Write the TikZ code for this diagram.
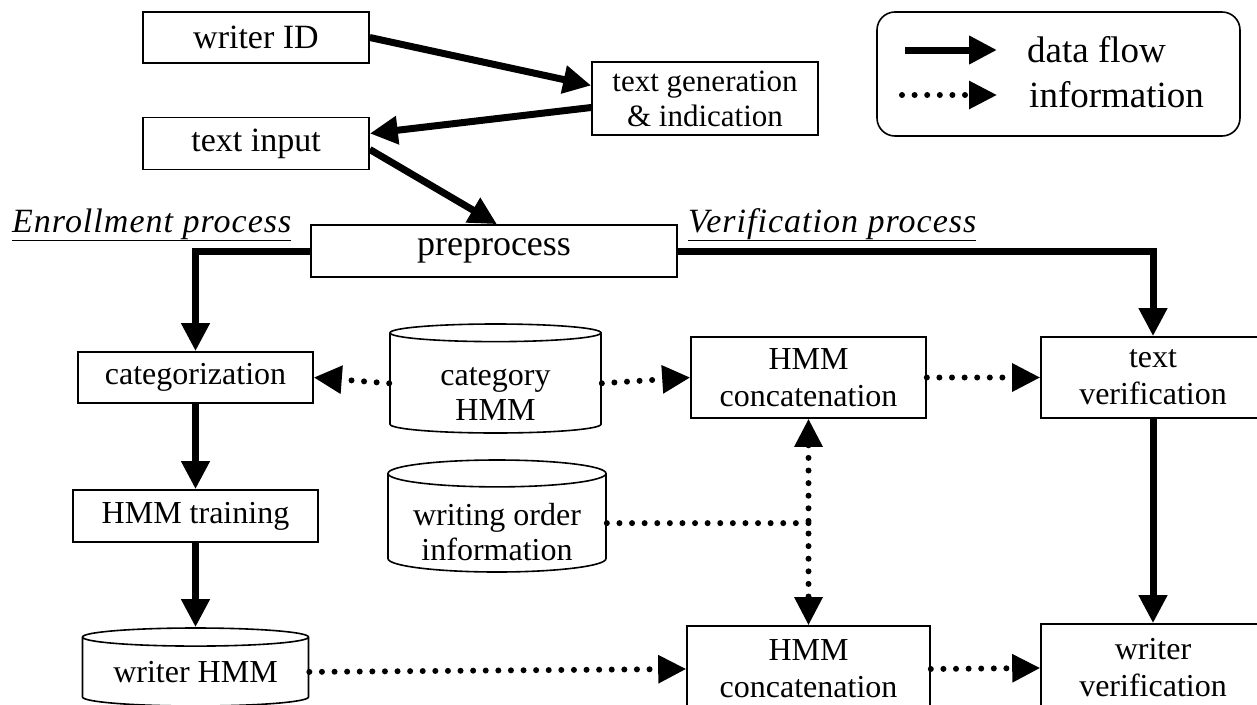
\documentclass[tikz,border=0pt]{standalone}
\usepackage{fontspec}
\setmainfont{Liberation Serif}
\usetikzlibrary{arrows.meta,shapes.geometric}

% text of a data base, set a little lower in the cylinder
\newcommand{\dbtext}[1]{\raisebox{-13pt}[\height][\depth]{\begin{tabular}{@{}c@{}}#1\end{tabular}}}

\begin{document}
\begin{tikzpicture}[x=1pt, y=-1pt, >={Triangle[length=28pt,width=27pt]},
    box/.style={rectangle, draw, line width=1.6pt, inner sep=0pt, align=center, font=\fontsize{32}{37}\selectfont},
    bigbox/.style={box, font=\fontsize{34}{39}\selectfont},
    dbase/.style={cylinder, shape border rotate=90, draw, line width=1.6pt, inner sep=0pt, anchor=shape center, font=\fontsize{32}{35}\selectfont},
    flow/.style={line width=7pt, ->},
    dots/.style={line width=6pt, line cap=round, dash pattern=on 0pt off 12.6pt},
    info/.style={dots, ->},
    proc/.style={anchor=base west, inner sep=0pt, font=\fontsize{34}{39}\selectfont\itshape\addfontfeature{LetterSpace=3}},
    legtext/.style={anchor=west, inner sep=0pt, font=\fontsize{37}{42}\selectfont}]

    \useasboundingbox (0,0) rectangle (1257,704);

    % Nodes
    \node[bigbox, minimum width=226, minimum height=51] (wid) at (256,37.5) {writer ID};
    \node[bigbox, minimum width=226, minimum height=52] (tin) at (256,143.5) {text input};
    \node[box, minimum width=226, minimum height=73, font=\fontsize{31}{35}\selectfont] (tgen) at (705,98.5) {text generation\\\& indication};
    \node[bigbox, minimum width=366, minimum height=52, font=\fontsize{36}{40}\selectfont] (prep) at (494,251) {preprocess};

    \node[proc] (enr) at (12,232) {\underline{Enrollment process}};
    \node[proc] (ver) at (688,232) {\underline{Verification process}};

    \node[box, minimum width=235, minimum height=51] (cat) at (195.5,377.5) {categorization};
    \node[dbase, minimum width=211, minimum height=109, aspect=0.16] (chmm) at (495.5,378.5) {\dbtext{category\\HMM}};
    \node[box, minimum width=235, minimum height=81] (hcat1) at (808.5,377.5) {HMM\\concatenation};
    \node[box, minimum width=224, minimum height=81] (tver) at (1153,377.5) {text\\verification};

    \node[box, minimum width=245, minimum height=52] (train) at (195.5,516) {HMM training};
    \node[dbase, minimum width=218, minimum height=112, aspect=0.16] (worder) at (497,516) {\dbtext{writing order\\information}};

    \node[dbase, minimum width=226, minimum height=78, aspect=0.11] (whmm) at (195.5,667) {writer HMM};
    \node[box, minimum width=243, minimum height=86] (hcat2) at (808.5,669) {HMM\\concatenation};
    \node[box, minimum width=224, minimum height=88] (wver) at (1153,668) {writer\\verification};

    % Legend
    \node[draw, line width=1.6pt, rounded corners=18pt, minimum width=363, minimum height=124] (legend) at (1058.5,74) {};
    \coordinate (lf1) at (905,50);
    \coordinate (lf2) at (997,50);
    \coordinate (li1) at (902,95);
    \coordinate (li2) at (997,95);
    \node[legtext] (ldata) at (1027,50) {data flow};
    \node[legtext] (linfo) at (1029,95) {information};
    \draw[flow] (lf1) -- (lf2);
    \draw[info] (li1) -- (li2);

    % Edges
    \draw[flow] (wid.east) -- ([yshift=13pt]tgen.west);
    \draw[flow] ([yshift=-9pt]tgen.west) -- ([yshift=10pt]tin.east);
    \draw[flow] ([yshift=-6pt]tin.east) -- ([xshift=3pt]prep.north);
    \draw[flow] (prep.west) -| (cat.north);
    \draw[flow] (prep.east) -| (tver.north);
    \draw[flow] (cat.south) -- (train.north);
    \draw[flow] (train.south) -- (whmm.north);
    \draw[flow] (tver.south) -- (wver.north);

    \draw[info] (chmm.west) -- (cat.east);
    \draw[info] (chmm.east) -- (hcat1.west);
    \draw[info] (hcat1.east) -- (tver.west);
    \draw[dots] (worder.east) -- (worder.east -| hcat1.south);
    \draw[info, <->] (hcat1.south) -- (hcat2.north);
    \draw[info] (whmm.east) -- (hcat2.west);
    \draw[info] (hcat2.east) -- (wver.west);

\end{tikzpicture}
\end{document}
